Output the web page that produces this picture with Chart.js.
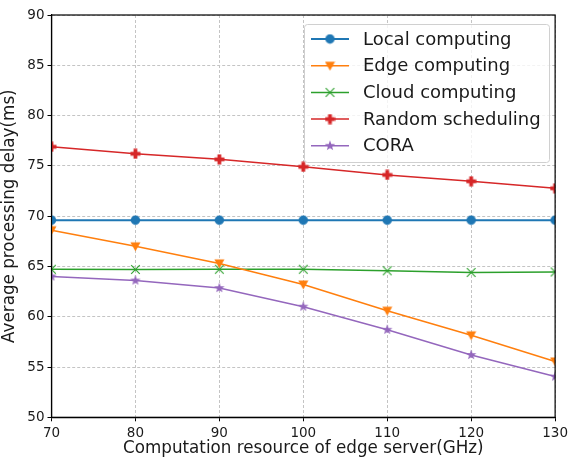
<!DOCTYPE html>
<html>
<head>
<meta charset="utf-8">
<script src="https://cdn.jsdelivr.net/npm/chart.js@4.4.1/dist/chart.umd.min.js"></script>
<style>
  html, body { margin: 0; padding: 0; background: #fff; }
  #wrap { width: 572px; height: 459px; position: relative; }
</style>
</head>
<body>
<div id="wrap"><canvas id="c" width="572" height="459"></canvas></div>
<script>
// Computation resource of the edge server (GHz)
const resources = [70, 80, 90, 100, 110, 120, 130];
// Average processing delay (ms) per scheme
const localComputing = [69.6, 69.6, 69.6, 69.6, 69.6, 69.6, 69.6];
const edgeComputing = [68.6, 67.0, 65.3, 63.2, 60.6, 58.15, 55.55];
const cloudComputing = [64.72, 64.7, 64.72, 64.72, 64.57, 64.4, 64.45];
const randomScheduling = [76.9, 76.2, 75.65, 74.9, 74.1, 73.47, 72.77];
const cora = [64.0, 63.6, 62.85, 61.0, 58.7, 56.2, 54.05];
const yTicks = [50, 55, 60, 65, 70, 75, 80, 85, 90];

const C = { blue: '#1f77b4', orange: '#ff7f0e', green: '#2ca02c', red: '#d62728', purple: '#9467bd' };
const FONT = 'DejaVu Sans';

function marker(size, draw) {
  const c = document.createElement('canvas');
  c.width = size; c.height = size;
  draw(c.getContext('2d'), size / 2);
  return c;
}
const mCircle = marker(11, (g, m) => { g.fillStyle = C.blue; g.beginPath(); g.arc(m, m, 4.7, 0, Math.PI * 2); g.fill(); });
const mTriDown = marker(11, (g, m) => {
  g.fillStyle = C.orange; g.beginPath();
  g.moveTo(m - 5, m - 4); g.lineTo(m + 5, m - 4); g.lineTo(m, m + 5); g.closePath(); g.fill();
});
const mX = marker(11, (g, m) => {
  g.strokeStyle = C.green; g.lineWidth = 1.1; g.beginPath();
  g.moveTo(m - 4.3, m - 4.3); g.lineTo(m + 4.3, m + 4.3);
  g.moveTo(m + 4.3, m - 4.3); g.lineTo(m - 4.3, m + 4.3); g.stroke();
});
const mPlus = marker(11, (g, m) => {
  g.fillStyle = C.red; const a = 5, w = 1.9;
  g.fillRect(m - a, m - w, 2 * a, 2 * w); g.fillRect(m - w, m - a, 2 * w, 2 * a);
});
const mStar = marker(12, (g, m) => {
  g.fillStyle = C.purple; g.beginPath();
  for (let i = 0; i < 10; i++) {
    const r = i % 2 === 0 ? 5.4 : 2.2;
    const ang = -Math.PI / 2 + i * Math.PI / 5;
    const px = m + r * Math.cos(ang), py = m + r * Math.sin(ang);
    i === 0 ? g.moveTo(px, py) : g.lineTo(px, py);
  }
  g.closePath(); g.fill();
});

function series(label, data, color, img, width) {
  return {
    label, data, borderColor: color, backgroundColor: color,
    borderWidth: width || 1.5, pointStyle: img, pointRadius: 5, pointHoverRadius: 5,
    tension: 0, fill: false
  };
}

const datasets = [
  series('Local computing', localComputing, C.blue, mCircle, 2),
  series('Edge computing', edgeComputing, C.orange, mTriDown),
  series('Cloud computing', cloudComputing, C.green, mX),
  series('Random scheduling', randomScheduling, C.red, mPlus),
  series('CORA', cora, C.purple, mStar)
];

// Framed legend box in the upper right, plus the full axes frame
const frameAndLegend = {
  id: 'frameAndLegend',
  afterDatasetsDraw(chart) {
    const { ctx, chartArea: a } = chart;
    ctx.save();
    ctx.strokeStyle = '#000'; ctx.lineWidth = 1.2;
    ctx.strokeRect(a.left, a.top, a.right - a.left, a.bottom - a.top);

    const bx = 304.5, by = 24.5, bw = 245, bh = 138, r = 3;
    ctx.beginPath();
    ctx.moveTo(bx + r, by); ctx.lineTo(bx + bw - r, by); ctx.arcTo(bx + bw, by, bx + bw, by + r, r);
    ctx.lineTo(bx + bw, by + bh - r); ctx.arcTo(bx + bw, by + bh, bx + bw - r, by + bh, r);
    ctx.lineTo(bx + r, by + bh); ctx.arcTo(bx, by + bh, bx, by + bh - r, r);
    ctx.lineTo(bx, by + r); ctx.arcTo(bx, by, bx + r, by, r); ctx.closePath();
    ctx.fillStyle = 'rgba(255,255,255,0.8)'; ctx.fill();
    ctx.strokeStyle = '#d0d0d0'; ctx.lineWidth = 1; ctx.stroke();

    ctx.font = '18px "' + FONT + '"'; ctx.textBaseline = 'middle'; ctx.textAlign = 'left';
    chart.data.datasets.forEach((ds, i) => {
      const y = 39 + i * 26.7;
      ctx.strokeStyle = ds.borderColor; ctx.lineWidth = ds.borderWidth;
      ctx.beginPath(); ctx.moveTo(311, y); ctx.lineTo(349, y); ctx.stroke();
      const im = ds.pointStyle;
      ctx.drawImage(im, 330 - im.width / 2, y - im.height / 2);
      ctx.fillStyle = '#1a1a1a';
      ctx.fillText(ds.label, 363, y + 1);
    });
    ctx.restore();
  }
};

const gridOpts = { color: '#c4c4c4', tickColor: '#000', tickBorderDash: [], tickLength: 4, tickWidth: 1 };
const borderOpts = { color: '#000', width: 1.2, dash: [3, 2] };

new Chart(document.getElementById('c'), {
  type: 'line',
  data: { labels: resources, datasets },
  plugins: [frameAndLegend],
  options: {
    responsive: false,
    animation: false,
    devicePixelRatio: 1,
    layout: { padding: { left: 0, right: 13.7, top: 15, bottom: 0 } },
    plugins: { legend: { display: false }, tooltip: { enabled: false } },
    scales: {
      x: {
        type: 'linear', min: 70, max: 130,
        afterBuildTicks: s => { s.ticks = resources.map(v => ({ value: v })); },
        afterFit: s => { s.height = 41.7; },
        ticks: { color: '#1a1a1a', font: { family: FONT, size: 13.5 }, padding: 4, maxRotation: 0 },
        grid: gridOpts,
        border: borderOpts,
        title: { display: true, text: 'Computation resource of edge server(GHz)', color: '#1a1a1a',
                 font: { family: FONT, size: 16.75 }, padding: { top: 1, bottom: 0 } }
      },
      y: {
        min: 50, max: 90,
        afterBuildTicks: s => { s.ticks = yTicks.map(v => ({ value: v })); },
        afterFit: s => { s.width = 51.5; },
        ticks: { color: '#1a1a1a', font: { family: FONT, size: 13.5 }, padding: 3 },
        grid: gridOpts,
        border: borderOpts,
        title: { display: true, text: 'Average processing delay(ms)', color: '#1a1a1a',
                 font: { family: FONT, size: 16.75 }, padding: { top: 0, bottom: 3 } }
      }
    }
  }
});
</script>
</body>
</html>
